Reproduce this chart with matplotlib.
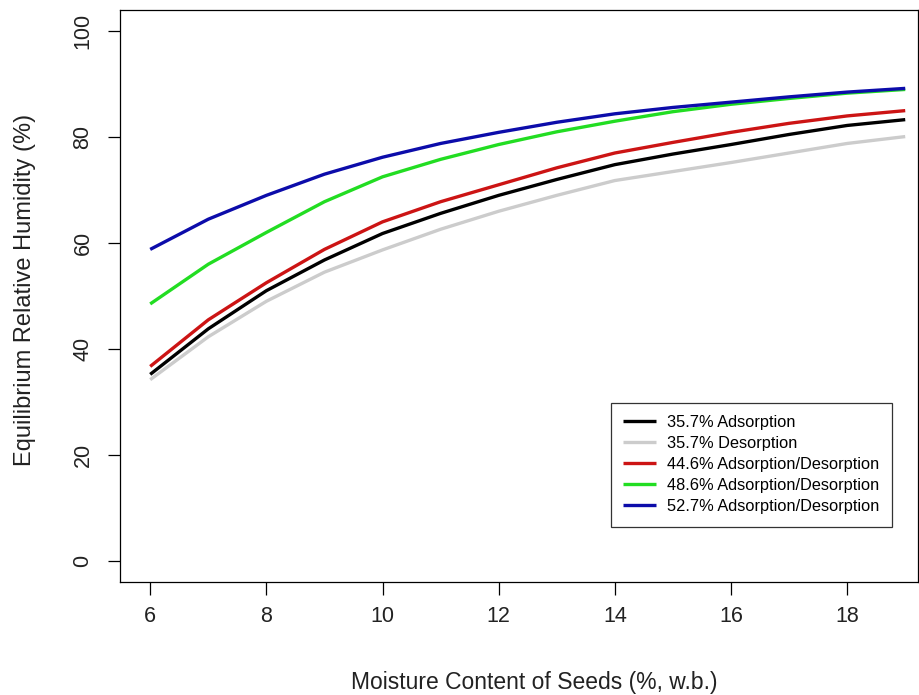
import matplotlib
matplotlib.use("Agg")
import matplotlib.pyplot as plt

plt.rcParams['font.family'] = ['Liberation Sans', 'DejaVu Sans']

# moisture content of seeds (% w.b.)
mc = [6, 7, 8, 9, 10, 11, 12, 13, 14, 15, 16, 17, 18, 19]

# equilibrium relative humidity (%)
erh_357_ads = [35.2, 43.8, 51.0, 56.8, 61.8, 65.6, 69.0, 72.0, 74.8, 76.8, 78.6, 80.5, 82.2, 83.3]
erh_357_des = [34.2, 42.3, 49.0, 54.5, 58.7, 62.6, 66.0, 69.0, 71.8, 73.5, 75.2, 77.0, 78.8, 80.1]
erh_446 = [36.7, 45.5, 52.5, 58.8, 64.0, 67.8, 71.0, 74.2, 77.0, 79.0, 80.9, 82.6, 84.0, 85.0]
erh_486 = [48.5, 56.0, 62.0, 67.8, 72.5, 75.8, 78.6, 81.0, 83.0, 84.8, 86.2, 87.3, 88.3, 89.0]
erh_527 = [58.8, 64.5, 69.0, 73.0, 76.2, 78.8, 80.9, 82.8, 84.4, 85.6, 86.6, 87.6, 88.5, 89.2]

labels = ["35.7% Adsorption", "35.7% Desorption", "44.6% Adsorption/Desorption",
          "48.6% Adsorption/Desorption", "52.7% Adsorption/Desorption"]
series = [erh_357_ads, erh_357_des, erh_446, erh_486, erh_527]
colors = ['black', '#cccccc', '#cc1414', '#22dd22', '#0c0caa']

fig = plt.figure(figsize=(9.2, 6.95), dpi=100)
ax = fig.add_axes([120/920, 1-582/695, 798/920, 572/695])

for y, c, lab in zip(series, colors, labels):
    ax.plot(mc, y, color=c, lw=2.4, label=lab, solid_capstyle='butt')

ax.set_xlim(5.48, 19.22)
ax.set_ylim(-4, 104)
ax.set_xticks([6, 8, 10, 12, 14, 16, 18])
ax.set_yticks([0, 20, 40, 60, 80, 100])
ax.tick_params(axis='x', length=9, width=0.9, labelsize=15.5, pad=8, labelcolor='#222222')
ax.tick_params(axis='y', length=9, width=0.9, labelsize=15.5, pad=10, labelcolor='#222222')
for t in ax.get_yticklabels():
    t.set_rotation(90)
    t.set_va('center')
for s in ax.spines.values():
    s.set_linewidth(0.9)

fig.text(534/920, 1-683/695, "Moisture Content of Seeds (%, w.b.)", ha='center', va='center',
         fontsize=16.5, color='#222222')
fig.text(25/920, 1-290/695, "Equilibrium Relative Humidity (%)", ha='center', va='center',
         rotation=90, fontsize=17, color='#222222')

leg = ax.legend(loc='upper left', bbox_to_anchor=(0.615, 0.3135), borderaxespad=0,
                fontsize=11.8, frameon=True, fancybox=False, handlelength=2.0,
                labelspacing=0.37, borderpad=0.75, handletextpad=0.7)
leg.get_frame().set_edgecolor('black')
leg.get_frame().set_linewidth(0.9)

fig.savefig("out.png", dpi=100)
